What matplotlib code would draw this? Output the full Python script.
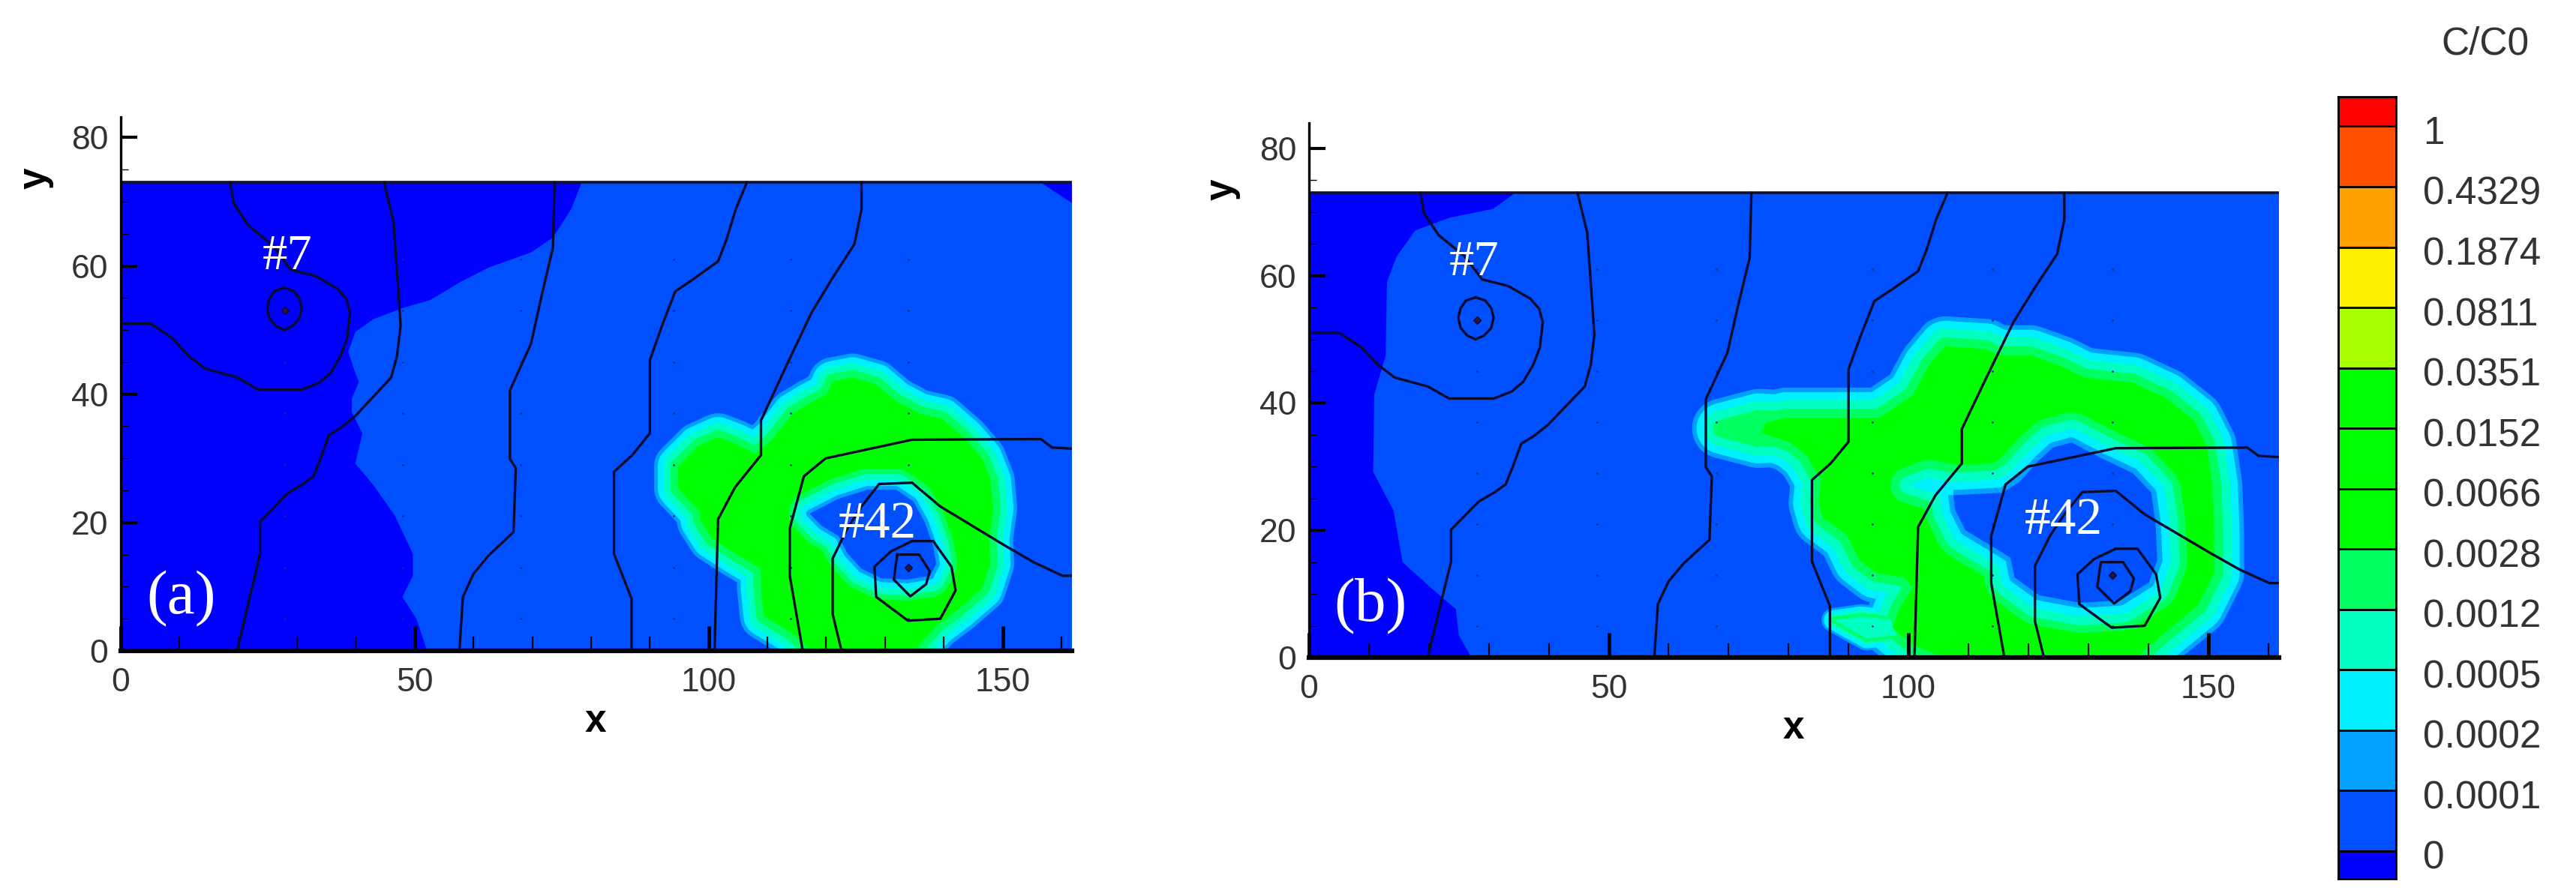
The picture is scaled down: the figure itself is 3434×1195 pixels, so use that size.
import matplotlib
matplotlib.use("Agg")
import matplotlib.pyplot as plt

W, H = 3434, 1195
PX = 72 / 100  # points per pixel at dpi 100

# head contour lines, same in both panels
c1 = [(0,51),(5.1,51),(8.8,48.7),(11.5,46),(14.3,44),(19.8,42.6),(23.4,40.7),(30.8,40.7),(33.8,41.8),(35.7,43.3),(37.4,46),
      (38.5,48.7),(39,52.7),(38.4,54.8),(36.9,56.4),(33.2,58.4),(28.9,59.4),(25.9,63.1),(21.6,66.4),(19.2,69.8),(18.6,73)]
c2 = [(19.8,0),(21.6,7),(23.7,15.1),(23.7,20.1),(28.3,24.5),(31,26),(32.8,27.2),(34,30),(35.4,33.6),(37.5,34.8),(39.9,36.6),
      (46,42.6),(47,46),(47.6,50.7),(47,59),(46.4,66.8),(44.8,73)]
c3 = [(57.6,0),(58.2,8.4),(60,12),(62.5,14.8),(66.8,18.5),(67.2,28.5),(66.2,29.9),(66.2,40.6),(69.8,47.9),(71.5,55),(73.5,62.8),(73.8,73)]
c4 = [(86.9,0),(86.9,8.1),(83.9,15.1),(83.9,27.9),(87,30.5),(90,33.9),(90,45.3),(92,50.5),(94.3,56),(97.5,58),(101.6,60.7),(103,64),(104.6,68.8),(106.5,73)]
c5 = [(101,0),(101.6,20.5),(104.5,25.5),(108.9,30.5),(108.9,35.9),(113,44),(117.5,52.7),(121,58),(124.8,63.4),(126,68.8),(126,73)]
c6 = [(116,0),(113.8,11.7),(113.8,19.1),(116.2,27.2),(119.9,30),(126,31.2),(134.6,32.9),(156.5,33),(158.4,31.7),(161.8,31.5)]
c7 = [(122.6,0),(121.1,5.7),(121.1,14.4),(123.6,19.1),(126,22.5),(129,26),(134.6,26.2),(139.4,22.5),(150.4,16.4),
      (155.3,13.8),(160.2,11.7),(161.8,11.7)]
ring7 = [(27.8,56.6),(29.4,56.1),(30.4,54.9),(30.8,53.4),(30.4,51.8),(29.2,50.6),(27.8,50),(26.4,50.6),(25.3,51.8),(24.9,53.4),
         (25.3,54.9),(26.2,56.1),(27.8,56.6)]
ring42_out = [(134.6,17.1),(138.2,17.1),(141.3,13.1),(142,9.4),(139.4,5),(133.9,4.7),(128.5,8.4),(128.2,13.1),(131,15.5),(134.6,17.1)]
ring42_in = [(132.1,15),(135.8,15),(137.6,12.4),(137,10.4),(134.3,8.5),(131.5,11.1),(131.9,13.8),(132.1,15)]
contours = [c1, c2, c3, c4, c5, c6, c7, ring7, ring42_out, ring42_in]

wells_x = [28, 134]
wells_y = [53, 13]
dots_x = [28, 48, 68, 94, 114, 134]
dots_y = [5, 13, 21, 29, 37, 45, 53, 61]

# panel a
front_a = [(52.1,0),(50.3,5),(47.9,8.4),(49.7,11.7),(49.7,15.1),(46.6,21.1),(43,25.8),(39.9,29.2),(41.1,33.9),(39.3,37.2),
           (39.3,39.3),(40.5,41.9),(39.9,43.3),(38.7,46.6),(39.9,49.7),(43,51.7),(47.9,53.4),(52.7,54.7),(57.6,57.4),
           (62.5,59.7),(69.8,62.1),(73.5,64.4),(76.6,68.8),(78.4,73),(156.5,73),(159.6,71.1),(161.8,69.8),(161.8,0)]
core_a = [(117.5,0),(114.3,2.7),(109.4,5.4),(108.9,9.7),(108.9,12.8),(104.5,15.2),(100.6,17.5),(98.7,20.2),(98.4,21.8),
          (94.8,25.3),(94.8,28.8),(98.2,31.9),(101.6,33.3),(104.5,32.3),(108,30.7),(110.9,33),(114.3,37),(117.2,38.6),
          (120.1,40),(121.1,42),(124.5,42.6),(128.4,41.6),(131.9,38.9),(135.8,37),(139.7,36.2),(143.6,33.1),(146.5,30),
          (148,26.5),(148.4,22.2),(147.7,17.5),(147.9,13.6),(146.5,9.7),(142.6,6.6),(138.7,3.9),(135.3,0.4),(133.8,0)]
hole_a = [(117.2,21.4),(122.1,23.7),(127,25.1),(131.9,25.1),(134.8,23.3),(136.7,20.2),(138.2,16.3),(138.7,13.6),(137.7,11.7),
          (133.8,11.1),(129.4,11.3),(126,12.8),(123.6,15.2),(122.1,17.9),(119.2,19.5)]

# panel b
front_b = [(27.1,0),(25,3.5),(24.5,7.6),(20.3,11),(15.6,15),(14.1,23.1),(10.7,29.2),(10.9,41.4),(12.8,47.5),(13,59),(14.6,63),
           (17.7,67.1),(23.4,69.1),(30.7,70.5),(34.4,73),(161.8,73),(161.8,0)]
core_b = [(106,0),(100.7,2),(97.3,4.7),(98.6,7.9),(100.7,11),(99.3,12.6),(94.6,13.3),(91.8,15.3),(89.8,19.2),(85.7,22),(85,24.3),
          (85.4,27.9),(83,31.8),(80.3,33.8),(75.5,35.3),(76.2,36.9),(79.6,37.7),(85.7,37.7),(95.2,37.7),(100.7,41.2),(103.4,45.9),
          (106.1,48.9),(112.9,48.5),(114.9,47.5),(120.4,47.5),(125.2,45.9),(129.3,44),(137.4,43.2),(142.9,40.8),(147.6,37.3),
          (149.7,33.4),(150.7,27),(151,19.2),(151,13.3),(148.3,8.2),(142.2,3.5),(138,0)]
hole_b = [(127.2,33.8),(132,31.4),(137.4,29),(140.5,25.9),(141.2,21.2),(141.5,15.3),(140.1,11.8),(135.4,9),(128.6,8.6),(121.8,9.8),
          (117.7,12.6),(117,15.7),(113.6,17.7),(109.5,20),(107.8,23.2),(107.5,25.5),(115.6,25.9),(118.4,27.5),(121.8,31),(124.1,33)]
tip_b = [(68.9,36),(75,37.5),(85,37),(85,35),(75,34.5)]
lobe_b = [(87.5,5.9),(92,6.5),(97,6),(98,3.5),(93,3)]
tongue_b = [(100,27.1),(103.4,28.3),(107.5,27.5),(107.5,25.5),(104,25.9)]

# legend
level_labels = ["0", "0.0001", "0.0002", "0.0005", "0.0012", "0.0028", "0.0066", "0.0152", "0.0351", "0.0811",
                "0.1874", "0.4329", "1"]
level_colors = ["#0000ff", "#0050ff", "#00a0ff", "#00f0ff", "#00ffc0", "#00ff60", "#00ff00", "#00ff00", "#00ff00",
                "#a8ff00", "#fff000", "#ffa000", "#ff5000", "#ff0000"]

DARK = "#0000ff"
MID = "#0050ff"
GREEN = "#00ff00"
PALE = "#00ff60"
TICK = "#333333"
out_bands = ["#00a0ff", "#00f0ff", "#00ffc0", "#00ff60"]  # outside to inside
in_bands = ["#00ff60", "#00ffc0", "#00f0ff", "#00a0ff"]


def axes_px(left, right, bottom, top):
    return plt.gcf().add_axes([left / W, 1 - bottom / H, (right - left) / W, (bottom - top) / H])


def fill_poly(ax, pts, col, d):
    xs = [p[0] for p in pts]
    ys = [p[1] for p in pts]
    if d > 0:
        ax.fill(xs, ys, fc=col, ec=col, lw=2 * d * PX, joinstyle="round")
    else:
        ax.fill(xs, ys, fc=col, ec="none")


def banded(ax, polys, colors):
    # concentration bands as strokes growing out of the polygons, outer band first
    for k, col in enumerate(colors):
        for pts, widths, fc in polys:
            if widths[k] is not None:
                fill_poly(ax, pts, col, widths[k])
    for pts, widths, fc in polys:
        fill_poly(ax, pts, fc, 0)


def panel(box, ymax, front, tag, outer, inner, t7, t42):
    ax = axes_px(*box)
    ax.set_xlim(0, 161.8)
    ax.set_ylim(0, ymax)
    ax.fill_between([0, 161.8], 0, 73, color=DARK, lw=0)
    fill_poly(ax, front, MID, 0)
    banded(ax, outer, out_bands)
    banded(ax, inner, in_bands)
    ax.plot([0, 161.8], [73, 73], color="#101030", lw=2.6)
    for y in dots_y:
        ax.plot(dots_x, [y] * len(dots_x), ls="none", marker="o", ms=2, mfc="#102a90", mec="none")
    for line in contours:
        ax.plot([p[0] for p in line], [p[1] for p in line], color="#0a0a2a", lw=2.4)
    ax.plot(wells_x, wells_y, ls="none", marker="D", ms=5.5, mfc="#301040", mec="#0a0a2a")

    for side in ["top", "right"]:
        ax.spines[side].set_visible(False)
    ax.spines["bottom"].set_linewidth(4.5)
    ax.spines["left"].set_linewidth(2.4)
    ax.set_xticks([0, 50, 100, 150])
    ax.set_xticks(range(0, 161, 10), minor=True)
    ax.set_yticks([0, 20, 40, 60, 80])
    ax.set_yticks(range(0, 81, 5), minor=True)
    ax.tick_params(axis="x", which="major", direction="in", length=24, width=3.5, pad=16, labelsize=32, labelcolor=TICK)
    ax.tick_params(axis="x", which="minor", direction="in", length=14, width=1.6)
    ax.tick_params(axis="y", which="major", direction="in", length=16, width=3, pad=12, labelsize=32, labelcolor=TICK)
    ax.tick_params(axis="y", which="minor", direction="in", length=7, width=1)
    for lab in ax.get_xticklabels() + ax.get_yticklabels():
        lab.set_family("Liberation Sans")
    ax.set_xlabel("x", family="Liberation Sans", weight="bold", fontsize=37)
    ax.set_ylabel("y", family="Liberation Sans", weight="bold", fontsize=37)
    ax.xaxis.set_label_coords(80.8, -11.1, transform=ax.transData)
    ax.yaxis.set_label_coords(-14.5, 73.6, transform=ax.transData)
    ax.xaxis.label.set_va("center")
    ax.yaxis.label.set_va("center")

    serif = dict(family="Liberation Serif", color="white", ha="center", va="center")
    ax.text(t7[0], t7[1], "#7", fontsize=48, **serif)
    ax.text(t42[0], t42[1], "#42", fontsize=50, **serif)
    ax.text(10.3, 8.1, tag, fontsize=60, **serif)
    return ax


fig = plt.figure(figsize=(W / 100, H / 100), dpi=100)

panel((161, 1429, 868, 156), 83.2, front_a, "(a)",
      [(core_a, [32, 27, 19, 10], GREEN)],
      [(hole_a, [28, 21, 13, 5], MID)],
      (28.3, 61.4), (128.7, 19.6))
panel((1745, 3038, 877, 164), 84, front_b, "(b)",
      [(tip_b, [40, 34, 24, 12], PALE),
       (lobe_b, [16, 13, 8, 4], "#00ffc0"),
       (core_b, [40, 34, 24, 12], GREEN)],
      [(tongue_b, [24, 12, None, None], "#00f0ff"),
       (hole_b, [40, 30, 18, 7], MID)],
      (27.6, 62), (125.9, 21.4))

# legend bar
cax = axes_px(3117, 3194, 1172, 129)
edges = [-0.46] + list(range(13)) + [12.49]
for i, col in enumerate(level_colors):
    cax.bar(0, edges[i + 1] - edges[i], bottom=edges[i], width=1, color=col, ec="black", lw=2)
cax.set_xlim(-0.5, 0.5)
cax.set_ylim(edges[0], edges[-1])
cax.set_xticks([])
cax.set_yticks([])
for s in cax.spines.values():
    s.set_linewidth(2)
for i, lab in enumerate(level_labels):
    cax.text(0.97, i - 0.13, lab, family="Liberation Sans", fontsize=37, color=TICK, va="center", ha="left")
cax.text(2.05, 13.36, "C/C0", family="Liberation Sans", fontsize=37, color=TICK, va="center", ha="center")

fig.savefig("out.png", dpi=100)
